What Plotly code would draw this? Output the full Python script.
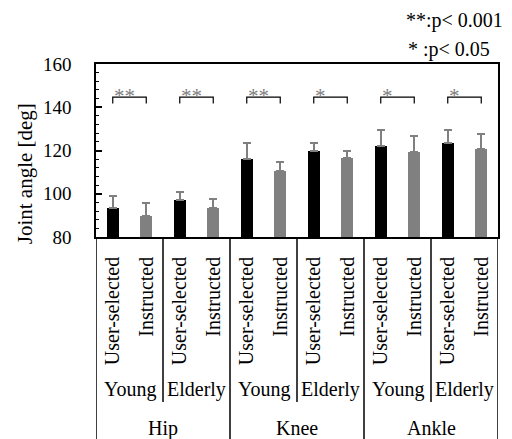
import plotly.graph_objects as go

# ---- data ----
joints = ["Hip", "Knee", "Ankle"]
groups = ["Young", "Elderly", "Young", "Elderly", "Young", "Elderly"]
conditions = ["User-selected", "Instructed"]
user_selected = [93.4, 97.1, 115.9, 119.7, 122.1, 123.4]
user_sd = [5.6, 3.8, 7.8, 4.0, 7.3, 6.3]
instructed = [89.8, 93.5, 110.6, 116.6, 119.4, 120.6]
instr_sd = [5.7, 4.2, 4.2, 3.4, 7.4, 7.1]
stars = ["**", "**", "**", "*", "*", "*"]
legend_lines = ["**:p< 0.001", "* :p< 0.05"]
y_ticks = [80, 100, 120, 140, 160]

FONT = "Liberation Serif, Times New Roman, serif"
GREY = "#808080"

n = len(groups)
x_us = [2 * i for i in range(n)]
x_in = [2 * i + 1 for i in range(n)]
ticktext = [conditions[k % 2] for k in range(2 * n)]

fig = go.Figure()
fig.add_trace(go.Bar(
    x=x_us, y=user_selected, width=0.36, marker=dict(color="black", line=dict(width=0)),
    error_y=dict(type="data", array=user_sd, arrayminus=[0] * n, symmetric=False,
                 color=GREY, thickness=2, width=4),
    showlegend=False))
fig.add_trace(go.Bar(
    x=x_in, y=instructed, width=0.36, marker=dict(color=GREY, line=dict(width=0)),
    error_y=dict(type="data", array=instr_sd, arrayminus=[0] * n, symmetric=False,
                 color=GREY, thickness=2, width=4),
    showlegend=False))

shapes = []
annotations = []
# significance brackets
br_y, br_drop = 144.7, 3.0
for i in range(n):
    a, b = x_us[i], x_in[i]
    shapes.append(dict(type="path", xref="x", yref="y",
                       path=f"M {a},{br_y - br_drop} L {a},{br_y} L {b},{br_y} L {b},{br_y - br_drop}",
                       line=dict(color="black", width=1.2)))
    annotations.append(dict(x=a, y=br_y, xref="x", yref="y", text=stars[i], showarrow=False,
                            xanchor="left", yanchor="middle", xshift=-1, yshift=1,
                            font=dict(family=FONT, size=21, color=GREY)))

# table lines below the axis
bottom = -1.2
for i in range(n + 1):
    xv = 2 * i - 0.5
    full = (i % 2 == 0)
    shapes.append(dict(type="line", xref="x", yref="paper", x0=xv, x1=xv, y0=0,
                       y1=bottom if full else -0.954,
                       line=dict(color="black", width=1.5)))

for i, g in enumerate(groups):
    annotations.append(dict(x=2 * i + 0.5, y=-0.884, xref="x", yref="paper", text=g,
                            showarrow=False, xanchor="center", yanchor="middle",
                            font=dict(family=FONT, size=20, color="black")))
for j, name in enumerate(joints):
    annotations.append(dict(x=4 * j + 1.5, y=-1.105, xref="x", yref="paper", text=name,
                            showarrow=False, xanchor="center", yanchor="middle",
                            font=dict(family=FONT, size=20, color="black")))

# p-value legend
annotations.append(dict(x=1.018, y=1.254, xref="paper", yref="paper", text=legend_lines[0],
                        showarrow=False, xanchor="right", yanchor="middle",
                        font=dict(family=FONT, size=20, color="black")))
annotations.append(dict(x=0.985, y=1.081, xref="paper", yref="paper", text=legend_lines[1],
                        showarrow=False, xanchor="right", yanchor="middle",
                        font=dict(family=FONT, size=20, color="black")))
# y title
annotations.append(dict(x=-0.176, y=0.364, xref="paper", yref="paper", text="Joint angle [deg]",
                        showarrow=False, textangle=-90, xanchor="center", yanchor="middle",
                        font=dict(family=FONT, size=21, color="black")))

fig.update_layout(
    width=512, height=439,
    margin=dict(l=96, r=12, t=64, b=202),
    plot_bgcolor="white", paper_bgcolor="white",
    bargap=0, barmode="overlay",
    shapes=shapes, annotations=annotations,
    font=dict(family=FONT, color="black"),
)
fig.update_xaxes(range=[-0.5, 2 * n - 0.5], tickmode="array", tickvals=list(range(2 * n)),
                 ticktext=ticktext, tickangle=-90, ticks="", showgrid=False, zeroline=False,
                 showline=True, linecolor="black", linewidth=1.5, mirror=True,
                 tickfont=dict(family=FONT, size=20, color="black"), ticklabelstandoff=10)
fig.update_yaxes(range=[80, 160], tickmode="array", tickvals=y_ticks,
                 ticktext=[f"{v}\u00a0\u00a0\u00a0\u00a0" for v in y_ticks],
                 ticks="inside", ticklen=6, tickwidth=1.5, tickcolor="black",
                 minor=dict(dtick=4, ticks="inside", ticklen=3, tickwidth=1, tickcolor="black"),
                 showgrid=False, zeroline=False, showline=True, linecolor="black", linewidth=1.5,
                 mirror=True, tickfont=dict(family=FONT, size=19, color="black"))

fig.write_html("out.html")
